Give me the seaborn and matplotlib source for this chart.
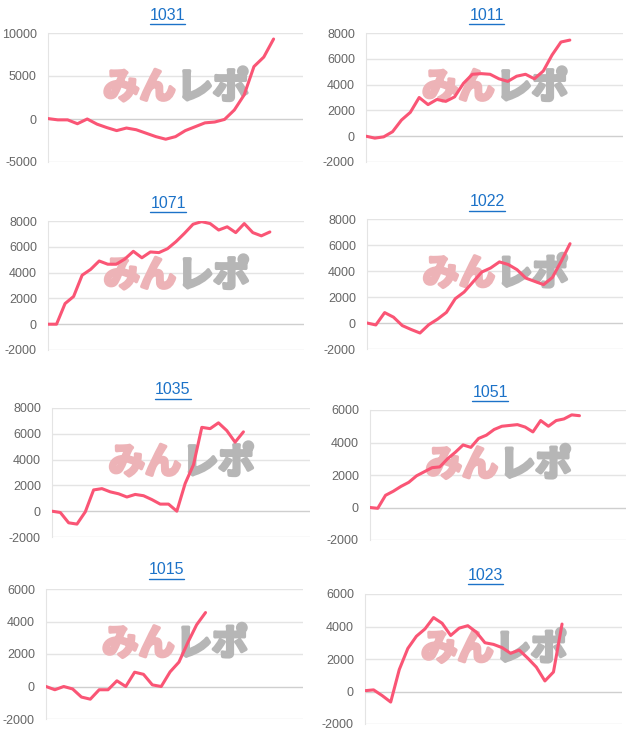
import numpy as np
import pandas as pd
import matplotlib
matplotlib.use("Agg")
import matplotlib.pyplot as plt
import matplotlib.patheffects as pe
import seaborn as sns
from matplotlib.lines import Line2D

sns.set_style("white")
plt.rcParams['font.family'] = ['Liberation Sans', 'DejaVu Sans']

titles = ["1031", "1011", "1071", "1022", "1035", "1051", "1015", "1023"]

v1031 = [50, -100, -100, -550, 0, -600, -1000, -1350, -1050, -1250, -1650, -2050,
         -2350, -2050, -1350, -900, -450, -350, -50, 1050, 2800, 6100, 7200, 9300]
v1011 = [0, -150, -50, 350, 1250, 1850, 3000, 2450, 2850, 2700, 3050, 4100,
         4800, 4850, 4800, 4450, 4250, 4650, 4800, 4450, 5050, 6300, 7300, 7450]
v1071 = [0, 0, 1600, 2150, 3800, 4250, 4900, 4650, 4650, 5050, 5650, 5150, 5600,
         5550, 5850, 6400, 7050, 7750, 7950, 7800, 7300, 7550, 7100, 7800, 7100,
         6850, 7150]
v1022 = [0, -150, 800, 450, -200, -500, -770, -130, 300, 820, 1870, 2380, 3150,
         3920, 4230, 4700, 4500, 4100, 3450, 3200, 2950, 3500, 4750, 6100]
v1035 = [0, -100, -900, -1000, -50, 1650, 1750, 1500, 1350, 1100, 1300, 1200,
         900, 550, 550, 0, 2150, 3600, 6500, 6400, 6850, 6250, 5350, 6150]
v1051 = [0, -50, 750, 1000, 1300, 1550, 1950, 2200, 2450, 2500, 3000, 3400, 3850,
         3700, 4250, 4450, 4800, 5000, 5050, 5100, 4950, 4650, 5350, 5000, 5350,
         5450, 5700, 5650]
v1015 = [0, -200, 0, -150, -650, -780, -200, -200, 350, 0, 880, 750, 100, 0, 900,
         1500, 2700, 3800, 4550]
v1023 = [50, 100, -250, -650, 1350, 2650, 3400, 3850, 4550, 4200, 3450, 3900,
         4050, 3650, 3000, 2900, 2700, 2350, 2550, 2050, 1500, 650, 1200, 4150]

series = [v1031, v1011, v1071, v1022, v1035, v1051, v1015, v1023]
y_ranges = [(-5000, 10000, 5000), (-2000, 8000, 2000), (-2000, 8000, 2000),
            (-2000, 8000, 2000), (-2000, 8000, 2000), (-2000, 6000, 2000),
            (-2000, 6000, 2000), (-2000, 6000, 2000)]
x_max = [26, 29, 30, 29, 31, 33, 29, 30]

# plot boxes in pixels: x0, x1, ytop, ybottom
boxes = [(48, 303, 33, 162), (366, 623, 33, 162),
         (48, 304, 221, 350), (367, 623, 219, 349),
         (52, 310, 408, 537), (370, 626, 410, 540),
         (46, 303, 589, 719), (365, 622, 594, 724)]

W, H = 640, 745
fig = plt.figure(figsize=(W / 100, H / 100), dpi=100)

line_col = "#fa5575"
grid_col = "#e4e4e4"
tick_col = "#666666"
title_col = "#1c72c8"
wm_pink = "#edb3b7"
wm_gray = "#b6b6b6"

title_objs = []
for k, vals in enumerate(series):
    x0, x1, yt, yb = boxes[k]
    ax = fig.add_axes([x0 / W, 1 - yb / H, (x1 - x0) / W, (yb - yt) / H])
    df = pd.DataFrame({"x": np.arange(len(vals)), "y": vals})
    sns.lineplot(data=df, x="x", y="y", ax=ax, color=line_col, linewidth=2.2,
                 zorder=3)
    lo, hi, step = y_ranges[k]
    ax.set_ylim(lo, hi)
    ax.set_xlim(0, x_max[k])
    ticks = np.arange(lo, hi + 1, step)
    ax.set_yticks(ticks)
    ax.set_yticklabels([str(t) for t in ticks])
    ax.set_xticks([])
    ax.set_xlabel("")
    ax.set_ylabel("")
    for t in ticks:
        ax.axhline(t, color="#cfcfcf" if t == 0 else grid_col, lw=1, zorder=1)
    for s in ["top", "right", "bottom"]:
        ax.spines[s].set_visible(False)
    ax.spines["left"].set_color(grid_col)
    ax.tick_params(axis="y", length=7, color=grid_col, labelcolor=tick_col,
                   labelsize=9, pad=1)
    ax.patch.set_alpha(0)

    # watermark
    ax.text(0.5, 0.575, "みん", transform=ax.transAxes, ha="right", va="center",
            fontsize=26, fontweight="bold", color=wm_pink,
            family=["Noto Sans CJK JP", "DejaVu Sans"], zorder=2,
            path_effects=[pe.withStroke(linewidth=2.5, foreground=wm_pink)])
    ax.text(0.505, 0.575, "レポ", transform=ax.transAxes, ha="left", va="center",
            fontsize=26, fontweight="bold", color=wm_gray,
            family=["Noto Sans CJK JP", "DejaVu Sans"], zorder=2,
            path_effects=[pe.withStroke(linewidth=2.5, foreground=wm_gray)])

    ty = [15, 15, 203, 202, 390, 393, 570, 575][k]
    tx = (x0 + x1) / 2 - 8
    t = fig.text(tx / W, 1 - ty / H, titles[k], ha="center", va="center",
                 fontsize=11.5, color=title_col)
    title_objs.append(t)

fig.canvas.draw()
r = fig.canvas.get_renderer()
for t in title_objs:
    bb = t.get_window_extent(r)
    yline = bb.y0 - 1
    fig.add_artist(Line2D([bb.x0 / W, bb.x1 / W], [yline / H, yline / H],
                          transform=fig.transFigure, color=title_col, lw=1))

fig.savefig("out.png", dpi=100)
